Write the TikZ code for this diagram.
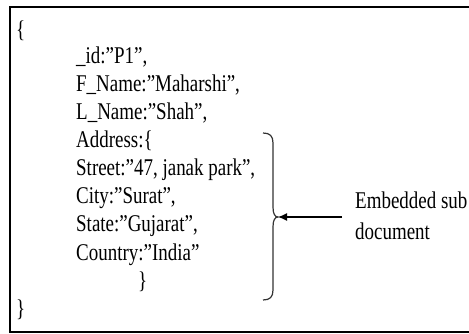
\documentclass[tikz,border=0pt]{standalone}
\usepackage{fontspec}
\setmainfont[FakeStretch=0.79]{Liberation Serif}
\usetikzlibrary{arrows.meta}
\begin{document}
\begin{tikzpicture}[x=1pt,y=-1pt,
  txt/.style={anchor=base west, inner sep=0pt, font=\fontsize{24}{28}\selectfont},
  frame/.style={line width=2.2pt},
  bracepath/.style={line width=1.2pt, draw=black!80},
  pointer/.style={line width=1.3pt, -{Latex[length=9pt,width=8pt]}}]
\useasboundingbox (0,0) rectangle (469,334);
\draw[frame] (10,7) rectangle (490,332);
\node[txt] (ob) at (16,38) {\{};
\node[txt] (id) at (76,64) {\_id:”P1”,};
\node[txt] (fn) at (76,92) {F\_Name:”Maharshi”,};
\node[txt] (ln) at (76,120) {L\_Name:”Shah”,};
\node[txt] (ad) at (76,148) {Address:\{};
\node[txt] (st) at (76,176) {Street:”47, janak park”,};
\node[txt] (ci) at (76,204) {City:”Surat”,};
\node[txt] (sa) at (76,232) {State:”Gujarat”,};
\node[txt] (co) at (76,260) {Country:”India”};
\node[txt] (ib) at (138,288) {\}};
\node[txt] (cb) at (16,316) {\}};
\coordinate (tip) at (278,217);
\draw[bracepath] (263,133) .. controls (270,133) and (273,136) .. (273,143)
  -- (273,207) .. controls (273,214) and (275,217) .. (tip)
  .. controls (275,217) and (273,220) .. (273,227)
  -- (273,290) .. controls (273,297) and (270,300) .. (263,300);
\node[txt] (emb) at (355,208) {Embedded sub};
\node[txt] (doc) at (355,240) {document};
\draw[pointer, shorten <=13pt] (emb.west |- tip) -- (tip);
\end{tikzpicture}
\end{document}
